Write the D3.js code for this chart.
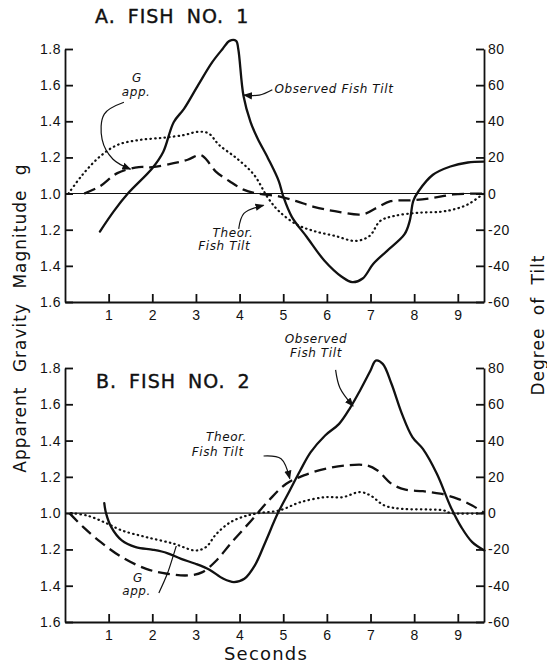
<!DOCTYPE html>
<html>
<head>
<meta charset="utf-8">
<script src="https://cdn.jsdelivr.net/npm/d3@7"></script>
<style>
  body { margin: 0; background: #fff; }
  svg { font-family: "DejaVu Sans", sans-serif; }
  .axis path, .axis line { stroke: #111; stroke-width: 1.8; }
  .axis text { font-size: 14px; fill: #111; letter-spacing: 0.5px; }
  .note { font-style: italic; font-size: 12px; fill: #111; letter-spacing: 0.6px; }
</style>
</head>
<body>
<svg width="547" height="667"></svg>
<script>
// Seconds ticks and tilt ticks (degrees). Left axis shows 1 +/- g deviation.
var secondTicks = [1, 2, 3, 4, 5, 6, 7, 8, 9];
var tiltTicks = [-60, -40, -20, 0, 20, 40, 60, 80];

// Fish no. 1 -- [seconds, degrees]
var a_observed = [[0.80,-21],[1.12,-9.7],[1.44,0],[2.0,14],[2.25,23],[2.49,39.5],[2.73,47],[3.05,60],[3.37,72.6],[3.61,80],[3.77,84.5],[3.92,84.5],[3.97,80],[4.09,54],[4.25,39.7],[4.41,30.6],[4.65,19.6],[4.9,6.8],[5.0,-1.5],[5.2,-13],[5.54,-24],[5.94,-37],[6.34,-46],[6.58,-49],[6.82,-47],[7.06,-39],[7.38,-31.7],[7.78,-22.5],[7.9,-15],[7.98,-4],[8.1,1.3],[8.43,10.4],[8.83,15],[9.23,17.2],[9.59,17.7]];
var a_gapp = [[0.44,0],[0.80,4],[1.2,11.3],[1.69,14.6],[2.0,14.6],[2.49,16.8],[2.81,18.7],[3.09,21.4],[3.21,19.6],[3.45,12.3],[3.77,6.8],[4.09,2.2],[4.41,0],[4.9,-1.5],[5.3,-4.2],[5.7,-7.3],[6.18,-9.7],[6.82,-11.5],[7.14,-7.9],[7.46,-4.2],[7.95,-3.7],[8.43,-2.4],[8.9,-0.5],[9.59,0]];
var a_theor = [[0.08,0],[0.4,10.4],[0.8,20.5],[1.2,26.9],[1.69,29.6],[2.25,30.9],[2.73,32.4],[3.05,34.2],[3.29,33.3],[3.53,26.9],[3.93,19.6],[4.33,10.4],[4.65,-2.4],[4.9,-9.7],[5.3,-17],[5.7,-20.7],[6.18,-23.4],[6.66,-26.2],[6.98,-23.4],[7.22,-15.2],[7.54,-12.4],[8.1,-10.6],[8.59,-10.1],[8.9,-8.8],[9.23,-6],[9.59,0]];

// Fish no. 2 -- [seconds, degrees]
var b_observed = [[0.9,5.5],[0.94,0],[1.06,-7.7],[1.3,-15],[1.62,-18.7],[2.02,-20.2],[2.34,-22],[2.66,-25.2],[2.99,-27.9],[3.31,-31.2],[3.63,-36.2],[3.87,-38],[4.11,-36.2],[4.35,-28.8],[4.59,-16],[4.87,-0.4],[5.15,12.5],[5.39,23.5],[5.63,33.6],[5.96,42.8],[6.28,49.2],[6.52,57.5],[6.76,67.6],[7.0,78.6],[7.12,84.1],[7.28,82.3],[7.48,71.3],[7.72,54.7],[7.96,41.9],[8.2,35.4],[8.52,21.7],[8.84,3.3],[9.08,-7.7],[9.33,-16],[9.61,-20.6]];
var b_theor = [[0.1,0],[0.42,-7.7],[0.82,-16],[1.3,-24.2],[1.86,-30.7],[2.34,-33.4],[2.83,-34.3],[3.15,-32.5],[3.47,-26.1],[3.79,-16.9],[4.27,-4],[4.67,7],[5.07,16.2],[5.47,20.8],[5.96,24.4],[6.44,26.3],[6.92,26.3],[7.16,23.5],[7.48,16.2],[7.8,12.9],[8.2,12.1],[8.6,10.7],[9.0,7.9],[9.33,4.2],[9.61,0]];
var b_gapp = [[0.14,0],[0.5,-1.3],[0.9,-5],[1.3,-9.5],[1.86,-13.2],[2.5,-16.9],[2.99,-20.6],[3.23,-18.7],[3.47,-11.4],[3.79,-5],[4.11,-1.8],[4.43,0],[4.91,1.5],[5.39,6],[5.96,8.8],[6.36,8.8],[6.76,11.6],[7.0,9.7],[7.32,4.2],[7.72,2.4],[8.36,2],[8.68,1.5],[8.84,0],[9.61,0]];

var svg = d3.select("svg");

svg.append("defs").append("marker")
  .attr("id", "arr")
  .attr("viewBox", "0 0 10 10")
  .attr("refX", 9).attr("refY", 5)
  .attr("markerWidth", 9).attr("markerHeight", 9)
  .attr("markerUnits", "userSpaceOnUse")
  .attr("orient", "auto")
  .append("path").attr("d", "M0,1 L10,5 L0,9 Z").attr("fill", "#111");

var x = d3.scaleLinear().domain([0, 9.6]).range([65, 484]);

var styles = {
  solid:  {w: 2.3, dash: null, cap: "round"},
  dashed: {w: 2.3, dash: "12 6", cap: "butt"},
  dotted: {w: 2.2, dash: "0.5 4.2", cap: "round"}
};

function panel(top, bottom, title, titleY, series) {
  var y = d3.scaleLinear().domain([-60, 80]).range([bottom, top]);
  var g = svg.append("g");

  // zero line (1.0 g)
  g.append("line")
    .attr("x1", x(0)).attr("x2", x(9.6))
    .attr("y1", y(0)).attr("y2", y(0))
    .attr("stroke", "#111").attr("stroke-width", 1.1);

  var line = d3.line()
    .x(function(d) { return x(d[0]); })
    .y(function(d) { return y(d[1]); })
    .curve(d3.curveCatmullRom.alpha(0.5));

  series.forEach(function(s) {
    var st = styles[s.style];
    g.append("path")
      .datum(s.data)
      .attr("d", line)
      .attr("fill", "none")
      .attr("stroke", "#111")
      .attr("stroke-width", st.w)
      .attr("stroke-linecap", st.cap)
      .attr("stroke-dasharray", st.dash);
  });

  g.append("g").attr("class", "axis")
    .attr("transform", "translate(" + x(0) + ",0)")
    .call(d3.axisLeft(y).tickValues(tiltTicks).tickSize(-8).tickSizeOuter(0).tickPadding(4)
      .tickFormat(function(d) { return (1 + Math.abs(d) / 100).toFixed(1); }));

  g.append("g").attr("class", "axis")
    .attr("transform", "translate(" + x(9.6) + ",0)")
    .call(d3.axisRight(y).tickValues(tiltTicks).tickSize(-8).tickSizeOuter(0).tickPadding(4)
      .tickFormat(function(d) { return String(d); }));

  g.append("g").attr("class", "axis")
    .attr("transform", "translate(0," + bottom + ")")
    .call(d3.axisBottom(x).tickValues(secondTicks).tickSize(-8).tickSizeOuter(0).tickPadding(8)
      .tickFormat(d3.format("d")));

  g.append("text")
    .attr("x", title.x).attr("y", titleY)
    .attr("font-size", 19).attr("letter-spacing", 1).attr("word-spacing", 5)
    .attr("fill", "#111").attr("stroke", "#111").attr("stroke-width", 0.4)
    .text(title.text);

  return {g: g, y: y};
}

var A = panel(49, 302, {text: "A. FISH NO. 1", x: 95}, 23, [
  {data: a_observed, style: "solid"},
  {data: a_gapp, style: "dashed"},
  {data: a_theor, style: "dotted"}
]);

var B = panel(368, 622, {text: "B. FISH NO. 2", x: 96}, 388, [
  {data: b_observed, style: "solid"},
  {data: b_theor, style: "dashed"},
  {data: b_gapp, style: "dotted"}
]);

// annotations: text lines and curved arrows, placed in data units
function note(p, lines, anchor) {
  lines.forEach(function(l) {
    p.g.append("text").attr("class", "note")
      .attr("x", x(l[0])).attr("y", p.y(l[1]))
      .attr("text-anchor", anchor || "middle")
      .text(l[2]);
  });
}
function arrow(p, pts, head) {
  var l = d3.line()
    .x(function(d) { return x(d[0]); })
    .y(function(d) { return p.y(d[1]); })
    .curve(d3.curveCatmullRom);
  p.g.append("path").attr("d", l(pts))
    .attr("fill", "none").attr("stroke", "#111").attr("stroke-width", 1.2)
    .attr("marker-end", head === false ? null : "url(#arr)");
}

note(A, [[4.8, 55.5, "Observed  Fish  Tilt"]], "start");
arrow(A, [[4.75, 57.5], [4.45, 54.5], [4.1, 54.5]]);
note(A, [[1.65, 61.5, "G"], [1.63, 54, "app."]]);
arrow(A, [[1.35, 50.5], [0.9, 44], [0.85, 30], [1.1, 19], [1.5, 13.5]]);
note(A, [[3.85, -24, "Theor."], [3.65, -31.5, "Fish  Tilt"]]);
arrow(A, [[3.98, -19.5], [4.1, -11], [4.55, -6.5]]);

note(B, [[5.75, 94, "Observed"], [5.75, 86, "Fish  Tilt"]]);
arrow(B, [[6.2, 79], [6.3, 69], [6.6, 59]]);
note(B, [[3.7, 39.5, "Theor."], [3.5, 31.5, "Fish  Tilt"]]);
arrow(B, [[4.55, 31.5], [4.95, 30], [5.15, 19]]);
note(B, [[1.67, -38, "G"], [1.64, -45, "app."]]);
arrow(B, [[2.15, -44], [2.35, -33], [2.55, -18]], false);

// axis titles
svg.append("text")
  .attr("transform", "translate(26,318) rotate(-90)")
  .attr("text-anchor", "middle")
  .attr("font-size", 17).attr("letter-spacing", 1).attr("word-spacing", 8)
  .attr("fill", "#111")
  .text("Apparent Gravity Magnitude g");

svg.append("text")
  .attr("transform", "translate(544,325) rotate(-90)")
  .attr("text-anchor", "middle")
  .attr("font-size", 17).attr("letter-spacing", 1).attr("word-spacing", 6)
  .attr("fill", "#111")
  .text("Degree of Tilt");

svg.append("text")
  .attr("x", 266).attr("y", 660)
  .attr("text-anchor", "middle")
  .attr("font-size", 18).attr("letter-spacing", 1.2)
  .attr("fill", "#111")
  .text("Seconds");
</script>
</body>
</html>
